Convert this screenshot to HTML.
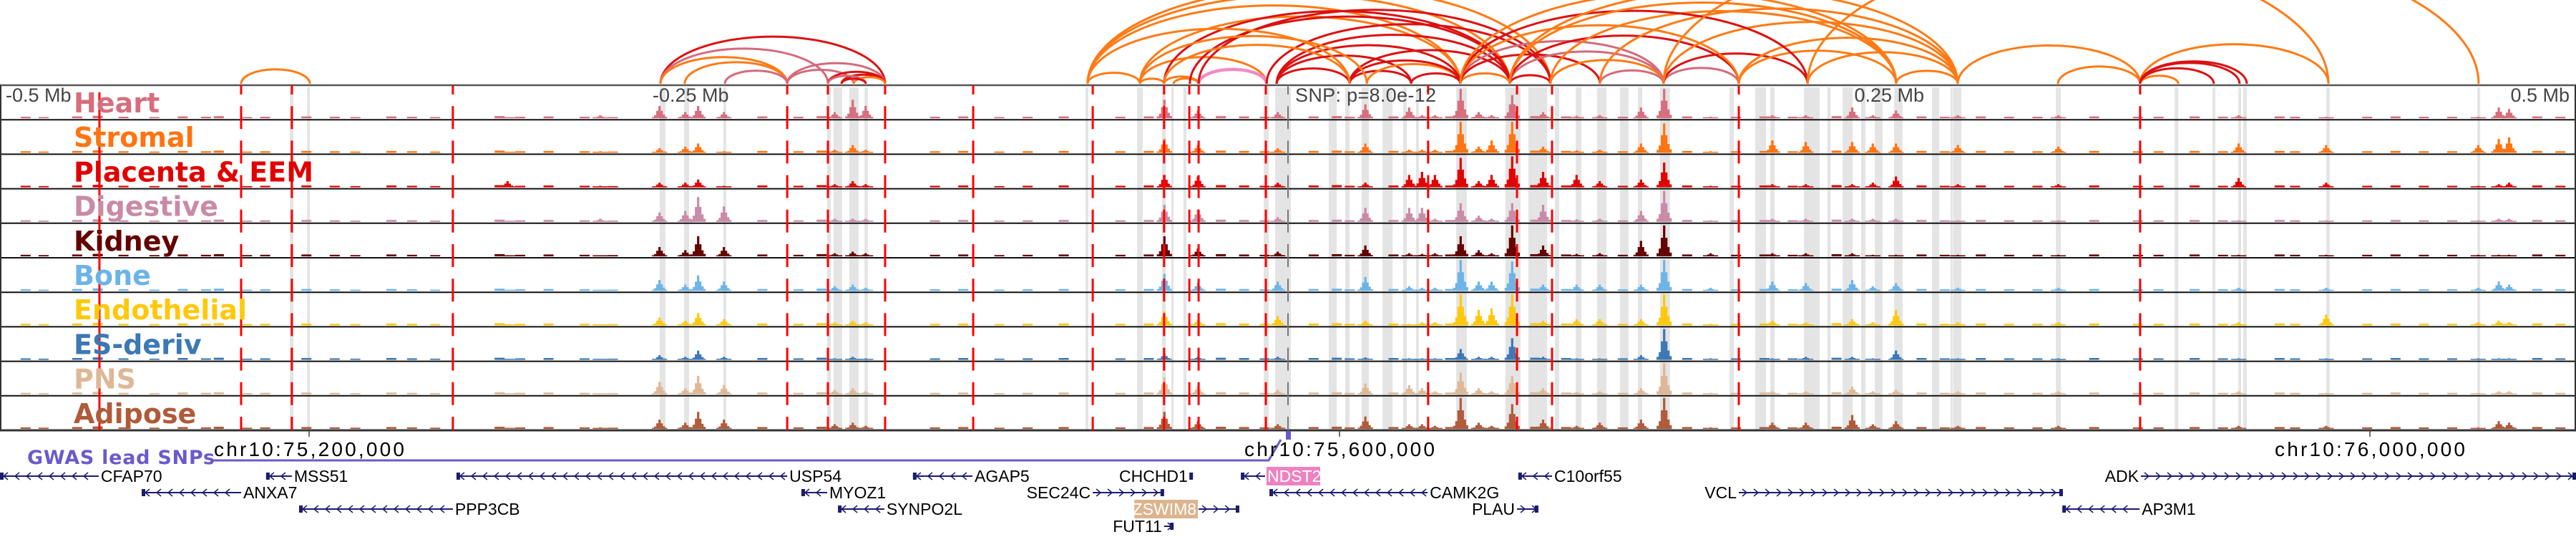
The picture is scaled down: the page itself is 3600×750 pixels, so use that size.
<!DOCTYPE html>
<html><head><meta charset="utf-8"><style>
html,body{margin:0;padding:0;background:#fff;}
svg{display:block;font-family:"Liberation Sans","DejaVu Sans",sans-serif;}
</style></head><body>
<svg id="chart" width="3600" height="750" viewBox="0 0 3600 750" xmlns="http://www.w3.org/2000/svg">
<g id="bands"></g>
<g id="arcs"></g>
<g id="tracks"></g>
<g id="snplines"></g>
<g id="labels"></g>
<g id="genes"></g>
<text x="8" y="142" font-size="27" fill="#444">-0.5 Mb</text>
<text x="912" y="142" font-size="27" fill="#444">-0.25 Mb</text>
<text x="1810" y="142" font-size="27" fill="#444" textLength="197">SNP: p=8.0e-12</text>
<text x="2689" y="142" font-size="27" fill="#444" text-anchor="end">0.25 Mb</text>
<text x="3591" y="142" font-size="27" fill="#444" text-anchor="end">0.5 Mb</text>
<text x="38" y="648" font-size="27" font-weight="bold" fill="#6a5acd" font-family="DejaVu Sans, sans-serif" textLength="262">GWAS lead SNPs</text>
<polyline points="298,643 1773,643 1790,614" fill="none" stroke="#6a5acd" stroke-width="3"/>
<rect x="1797" y="602" width="7" height="12" fill="#6a5acd"/>
</svg>
<script>
const W = 3600, KB = 1000;
const tickKb = [120, 520, 920];
const tickLabels = ["chr10:75,200,000", "chr10:75,600,000", "chr10:76,000,000"];
const trackNames = ["Heart","Stromal","Placenta & EEM","Digestive","Kidney","Bone","Endothelial","ES-deriv","PNS","Adipose"];
const trackColors = ["#d66e7e","#ff7410","#e00000","#c98aa8","#640000","#6cb4e8","#ffc80a","#3c78b4","#deb896","#b05a3a"];
const peakKb = [197,233,256,266,271,281,324,331,336,452,465,496,530,547,552,557,567,574,579,587,599,612,621,637,646,664,688,701,719,727,736,760,799,869,903,962,970,974];
const peakH = [
 [.02,.1,.4,.2,.4,.2,.2,.6,.4,.6,.25,.2,.45,.35,.1,.1,.95,.2,.1,.75,.2,.08,.1,.35,.95,.05,.1,.1,.35,.1,.25,.1,.1,.1,.05,.05,.35,.3],
 [.02,.05,.15,.2,.3,.05,.1,.25,.1,.45,.25,.15,.3,.1,.1,.1,1,.2,.4,1,.2,.08,.1,.3,.95,.05,.4,.35,.35,.3,.3,.25,.2,.3,.25,.25,.45,.5],
 [.2,.05,.15,.15,.25,.05,.1,.2,.1,.4,.35,.15,.15,.4,.5,.4,.95,.2,.4,1,.5,.4,.2,.25,.8,.05,.1,.1,.1,.15,.35,.1,.1,.3,.15,.05,.1,.15],
 [.02,.1,.3,.35,.8,.5,.1,.1,.1,.55,.4,.15,.45,.45,.45,.1,.6,.2,.1,.6,.55,.08,.1,.35,1,.05,.1,.1,.1,.1,.1,.05,.05,.05,.05,.05,.1,.1],
 [.02,.02,.3,.2,.65,.3,.1,.15,.1,.65,.25,.15,.35,.1,.08,.1,.65,.2,.1,1,.35,.08,.1,.5,1,.1,.1,.1,.1,.05,.05,.05,.05,.05,.05,.05,.05,.05],
 [.02,.02,.35,.2,.5,.3,.15,.2,.1,.55,.25,.3,.45,.15,.1,.1,1,.3,.3,.95,.2,.2,.2,.2,1,.1,.3,.25,.35,.15,.25,.1,.1,.1,.1,.1,.3,.2],
 [.02,.02,.25,.15,.4,.2,.1,.15,.1,.45,.18,.3,.15,.05,.1,.1,1,.5,.55,1,.15,.2,.2,.2,1,.05,.15,.1,.2,.1,.5,.1,.1,.1,.35,.1,.15,.1],
 [.02,.02,.15,.1,.3,.1,.05,.1,.05,.2,.1,.1,.08,.05,.05,.05,.35,.1,.1,.7,.1,.05,.05,.15,1,.05,.05,.1,.1,.05,.3,.05,.05,.05,.05,.05,.05,.05],
 [.02,.02,.4,.2,.6,.3,.15,.2,.1,.55,.25,.15,.35,.3,.2,.1,.7,.2,.1,.6,.2,.08,.1,.2,1,.05,.1,.1,.25,.1,.15,.1,.1,.1,.05,.05,.1,.1],
 [.02,.05,.3,.2,.55,.3,.15,.2,.1,.55,.25,.15,.4,.15,.15,.1,1,.2,.1,.8,.3,.1,.2,.3,1,.05,.2,.2,.45,.15,.25,.1,.1,.1,.1,.05,.25,.2]
];
const noiseKb = [8,15,28,36,46,58,69,78,83,94,101,117,128,136,150,158,167,192,200,211,225,236,294,308,317,361,372,386,397,411,433,444,472,481,489,508,517,522,539,561,594,606,628,653,672,683,694,711,744,753,767,778,789,811,828,836,850,861,883,889,917,928,939,950,983,992];
const noiseH = [.05,.04,.06,.08,.05,.04,.06,.05,.07,.04,.05,.06,.05,.04,.06,.05,.04,.07,.05,.06,.05,.04,.06,.05,.07,.05,.06,.04,.05,.06,.05,.06,.07,.06,.05,.06,.07,.05,.06,.06,.07,.06,.05,.06,.05,.06,.05,.07,.06,.05,.06,.05,.05,.06,.05,.05,.06,.05,.06,.05,.05,.06,.05,.05,.06,.05];
const bandStart = [112.5,119.2,256.1,265.6,280.8,321.1,323.6,329.7,335.6,421.4,441.4,451.1,454.7,459.4,490.6,495,515.8,522.2,528.6,536.7,544.7,549.7,565.3,584.4,593.3,603.6,611.7,620,628.9,635.8,644.4,671.4,681.4,687.2,700.3,709.4,715.3,722.5,727.8,735.3,750,757.2,758.3,798.1,844.2,858.9,868.9,870.8,903.1,961.7];
const bandEnd   = [113.9,120.3,258.3,267.5,281.9,322.5,326.9,333.3,336.9,422.5,443.6,452.5,455.6,460.6,492.5,501.1,518.9,523.9,531.4,540.6,546.1,550.8,569.4,590.3,600.6,605.3,613.9,623.6,632.2,637.5,648.3,673.1,685.6,688.9,706.4,710.6,719.2,724.2,730.8,738.6,752.8,758.1,761.4,800,845.6,860,870,872.2,904.4,962.8];
const snpKb = [93.6,113.3,175.8,305.6,321.4,343.6,377.8,424.2,451.9,461.7,465.3,491.4,554.4,588.9,602.5,675,830.8];
const solidSnpKb = [38.6];
const leadSnpKb = 500;
const arcA = [93.6,256.4,256.4,256.4,265.8,281.4,305.6,305.6,321.4,326.7,321.4,331.4,326.7,422.2,442.5,422.2,422.2,422.2,442.5,442.5,451.9,455.6,465.3,451.9,461.9,465.3,491.7,495.6,495.6,523.9,451.9,495.6,523.9,530.6,547.8,566.9,586.1,566.9,566.9,586.1,601.9,621.1,645.8,645.8,675,675,586.1,566.9,601.9,645.8,621.1,701.7,736.1,566.9,586.1,760,798.9,830.8,830.8,830.8,830.8,830.8,645.8,701.7,495.6,523.9,422.2,442.5,566.9,586.1];
const arcB = [120.3,343.6,321.4,305.6,305.6,305.6,343.6,331.4,343.6,343.6,336.1,343.6,336.1,442.5,451.9,566.9,586.1,601.9,566.9,491.7,465.3,465.3,491.7,586.1,586.1,601.9,601.9,586.1,566.9,586.1,523.9,547.8,547.8,566.9,566.9,586.1,601.9,645.8,621.1,645.8,645.8,645.8,675,701.7,736.1,760,675,675,736.1,760,760,760,760,701.7,736.1,830.8,830.8,903.9,845.6,859.4,869.4,872.2,903.9,962.2,523.9,566.9,523.9,530.6,736.1,760];
const arcC = ["O","R","P","O","O","P","P","P","R","R","P","O","R","O","O","O","O","O","O","O","O","O","K","R","R","R","R","R","R","R","O","R","R","O","R","O","R","P","R","P","O","P","P","R","O","O","R","O","O","O","O","O","O","R","O","O","O","O","O","R","R","R","O","O","R","R","O","O","O","O"];
const arcColorMap = {O:"#ff7a14", R:"#dd1010", P:"#d46a7a", K:"#f08cc4"};
const geneNames = ["CFAP70","MSS51","USP54","AGAP5","CHCHD1","NDST2","C10orf55","ADK","ANXA7","MYOZ1","SEC24C","CAMK2G","VCL","PPP3CB","SYNPO2L","ZSWIM8","PLAU","AP3M1","FUT11"];
const geneStart = [0,103.3,177.2,354.4,461.9,481.7,589.4,831.1,55,311.1,424.2,492.8,675,116.1,325.3,465.3,588.9,800.6,451.9];
const geneEnd   = [38.3,113.3,305.6,377.5,463.1,491.1,602.5,1000,93.6,321.1,451.9,554.2,800.8,175.8,343.3,481.1,597.2,830.6,455.6];
const geneStrand = ["-","-","-","-","+","-","-","+","-","-","+","-","+","-","-","+","+","-","+"];
const geneRow = [0,0,0,0,0,0,0,0,1,1,1,1,1,2,2,2,2,2,3];
const geneHighlight = {"NDST2":"#ee82c0","ZSWIM8":"#dcb48e"};

const NS = "http://www.w3.org/2000/svg";
function x(kb){ return kb / KB * W; }
const TOP = 119, ROWH = 48.2, BOTTOM = TOP + 10*ROWH;
function el(tag, attrs, parent){ const e = document.createElementNS(NS, tag); for (const k in attrs) e.setAttribute(k, attrs[k]); parent.appendChild(e); return e; }
const svg = document.getElementById("chart");
const gBands = document.getElementById("bands"), gArcs = document.getElementById("arcs"), gTracks = document.getElementById("tracks");
const gSnp = document.getElementById("snplines"), gLabels = document.getElementById("labels"), gGenes = document.getElementById("genes");

for (let i=0;i<bandStart.length;i++){
  const r = el("rect",{x:x(bandStart[i]), y:TOP+3, width:Math.max(2,x(bandEnd[i])-x(bandStart[i])), height:BOTTOM-TOP-3, fill:"#e4e4e4"}, gBands);
  
  
}
const ARCBASE = 117;
for (let i=0;i<arcA.length;i++){
  const x1 = x(arcA[i]), x2 = x(arcB[i]);
  const rx = (x2-x1)/2, ry = 0.21*(x2-x1);
  const p = el("path",{d:`M${x1},${ARCBASE} A${rx},${ry} 0 0 1 ${x2},${ARCBASE}`, fill:"none", stroke:arcColorMap[arcC[i]], "stroke-width": arcC[i]==="K"?4.5:3}, gArcs);
  
  
}
el("rect",{x:0,y:ARCBASE+1,width:W,height:2,fill:"#fff"},gArcs);
const shapeOff = [-9,-6,-3,0,3,6,9];
const shapeF = [0.1,0.25,0.6,1,0.6,0.3,0.12];
for (let t=0;t<10;t++){
  const top = TOP + t*ROWH, base = top + ROWH - 2, maxH = ROWH - 5;
  const g = el("g",{},gTracks);
  
  
  for (let i=0;i<noiseKb.length;i++){
    const h = noiseH[i]*maxH;
    const b = el("rect",{x:x(noiseKb[i]), y:base-h, width:14, height:h, fill:trackColors[t]}, g);
    
    
  }
  for (let i=0;i<peakKb.length;i++){
    const v = peakH[t][i];
    for (let k=0;k<shapeOff.length;k++){
      const h = Math.max(1.5, v*shapeF[k]*maxH);
      const b = el("rect",{x:x(peakKb[i])+shapeOff[k]-1.5, y:base-h, width:3.2, height:h, fill:trackColors[t]}, g);
      
      
    }
  }
  const line = el("line",{x1:0,x2:W,y1:top+ROWH,y2:top+ROWH,stroke:"#111","stroke-width":2}, gTracks);
  
  
  const lab = el("text",{x:103,y:top+38,"font-size":38,"font-weight":"bold","font-family":"DejaVu Sans, sans-serif",fill:trackColors[t]}, gLabels);
  lab.textContent = trackNames[t];
  
  
}
el("line",{x1:0,x2:W,y1:TOP,y2:TOP,stroke:"#555","stroke-width":2.5},gTracks);
el("line",{x1:1,x2:1,y1:TOP,y2:BOTTOM,stroke:"#333","stroke-width":2},gTracks);
el("line",{x1:W-1,x2:W-1,y1:TOP,y2:BOTTOM,stroke:"#333","stroke-width":2},gTracks);
el("line",{x1:0,x2:W,y1:BOTTOM,y2:BOTTOM,stroke:"#333","stroke-width":3},gTracks);
for (let i=0;i<snpKb.length;i++){
  const l = el("line",{x1:x(snpKb[i]),x2:x(snpKb[i]),y1:TOP,y2:BOTTOM,stroke:"#ff0000","stroke-width":3,"stroke-dasharray":"32 16.2","stroke-dashoffset":19}, gSnp);
  
  
}
for (let i=0;i<solidSnpKb.length;i++){
  const l = el("line",{x1:x(solidSnpKb[i]),x2:x(solidSnpKb[i]),y1:TOP+10,y2:BOTTOM,stroke:"#ff0000","stroke-width":3}, gSnp);
  
  
}
const lead = el("line",{x1:x(leadSnpKb),x2:x(leadSnpKb),y1:TOP,y2:BOTTOM,stroke:"#777","stroke-width":2,"stroke-dasharray":"32 16.2","stroke-dashoffset":19}, gSnp);


for (let i=0;i<tickKb.length;i++){
  const tx = x(tickKb[i]);
  const tk = el("line",{x1:tx,x2:tx,y1:BOTTOM,y2:BOTTOM+9,stroke:"#444","stroke-width":1.5}, svg);
  
  
  const tl = el("text",{x:tx,y:637,"font-size":28,"text-anchor":"middle",fill:"#000",textLength:266}, svg);
  tl.textContent = tickLabels[i];
  
  
}
const rowY = [665,688,711,735];
const NAVY = "#1c1c6e";
for (let i=0;i<geneNames.length;i++){
  const y = rowY[geneRow[i]], x1 = x(geneStart[i]), x2 = Math.min(W, x(geneEnd[i]));
  const g = el("g",{},gGenes);
  
  
  el("line",{x1:x1,x2:x2,y1:y,y2:y,stroke:NAVY,"stroke-width":2},g);
  let d = "";
  for (let cx = x1+8; cx < x2-4; cx += 16){
    d += geneStrand[i]==="+" ? `M${cx-3},${y-5} L${cx+3},${y} L${cx-3},${y+5} ` : `M${cx+3},${y-5} L${cx-3},${y} L${cx+3},${y+5} `;
  }
  el("path",{d:d,fill:"none",stroke:NAVY,"stroke-width":1.5},g);
  const ex = geneStrand[i]==="+" ? x2-5 : x1;
  el("rect",{x:ex,y:y-5,width:5,height:10,fill:NAVY},g);
  const left = geneStrand[i]==="+";
  const lx = left ? x1-3 : x2+3;
  const fs = 23;
  const approxW = geneNames[i].length*fs*0.6;
  if (geneHighlight[geneNames[i]]){
    el("rect",{x:left?lx-approxW-4:lx-1,y:y-13,width:approxW+6,height:26,fill:geneHighlight[geneNames[i]]},g);
  }
  const t = el("text",{x:lx,y:y+8,"font-size":fs,"text-anchor":left?"end":"start",fill:geneHighlight[geneNames[i]]?"#fff":"#000"},g);
  t.textContent = geneNames[i];
}
</script>
</body></html>
